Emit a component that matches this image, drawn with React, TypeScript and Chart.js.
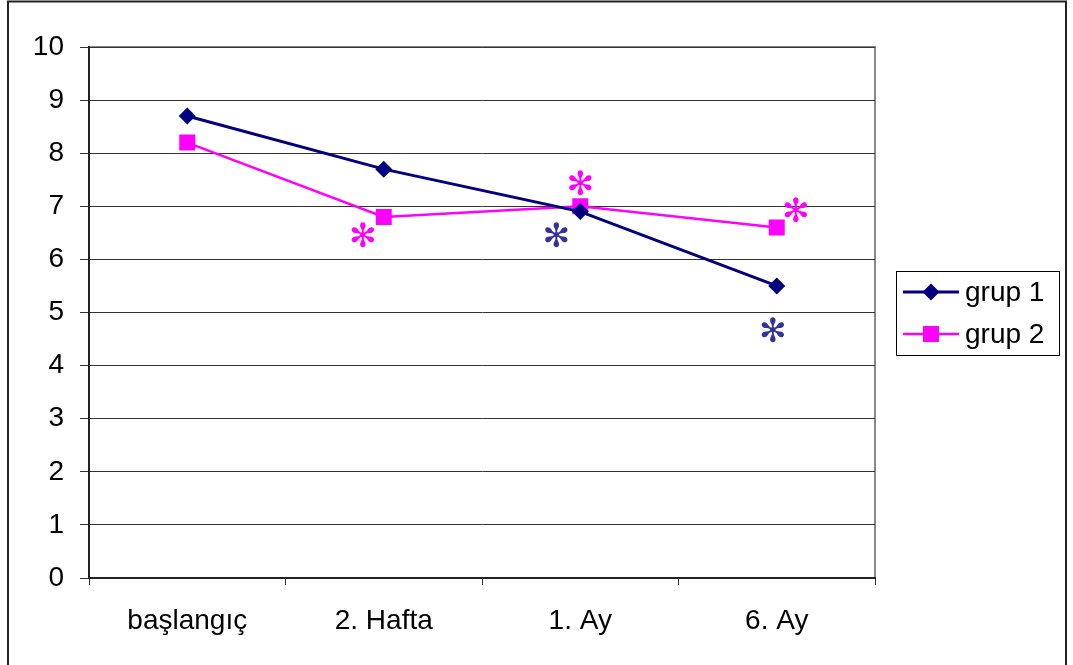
import React, { useEffect, useRef } from "react";
import { Chart, registerables } from "chart.js";

Chart.register(...registerables);

const categories = ["başlangıç", "2. Hafta", "1. Ay", "6. Ay"];
const grup1 = [8.7, 7.7, 6.9, 5.5];
const grup2 = [8.2, 6.8, 7.0, 6.6];
const yTicks = [0, 1, 2, 3, 4, 5, 6, 7, 8, 9, 10];

// significance marks: category position (fractional index), value, series
const starX = [0.893, 1.878, 2.0, 2.98, 3.097];
const starY = [6.39, 6.39, 7.37, 4.6, 6.86];
const starSeries = [2, 1, 2, 1, 2];

const NAVY = "#000080";
const PINK = "#FF00FF";
const STAR_NAVY = "#333399";
const FONT = "Liberation Sans, Arial, sans-serif";

function drawMarker(ctx: CanvasRenderingContext2D, kind: number, x: number, y: number) {
  ctx.save();
  if (kind === 1) {
    const r = 8.5;
    ctx.fillStyle = NAVY;
    ctx.beginPath();
    ctx.moveTo(x, y - r);
    ctx.lineTo(x + r, y);
    ctx.lineTo(x, y + r);
    ctx.lineTo(x - r, y);
    ctx.closePath();
    ctx.fill();
  } else {
    const h = 8;
    ctx.fillStyle = PINK;
    ctx.fillRect(x - h, y - h, 2 * h, 2 * h);
  }
  ctx.restore();
}

const framePlugin = {
  id: "framePlugin",
  beforeDraw(chart: any) {
    const { ctx, chartArea } = chart;
    ctx.save();
    ctx.fillStyle = "#ffffff";
    ctx.fillRect(0, 0, chart.width, chart.height);
    ctx.strokeStyle = "#888888";
    ctx.lineWidth = 2;
    ctx.strokeRect(chartArea.left, chartArea.top, chartArea.right - chartArea.left, chartArea.bottom - chartArea.top);
    ctx.restore();
  },
  afterDraw(chart: any) {
    const { ctx } = chart;
    const xs = chart.scales.x;
    const ys = chart.scales.y;
    ctx.save();
    // outer frame
    ctx.strokeStyle = "#222222";
    ctx.lineWidth = 2;
    ctx.beginPath();
    ctx.moveTo(8, chart.height + 5);
    ctx.lineTo(8, 1.5);
    ctx.lineTo(1066, 1.5);
    ctx.lineTo(1066, chart.height + 5);
    ctx.stroke();

    // stars
    const step = xs.getPixelForValue(1) - xs.getPixelForValue(0);
    ctx.font = `33px "DejaVu Sans"`;
    ctx.textAlign = "center";
    ctx.textBaseline = "middle";
    for (let i = 0; i < starX.length; i++) {
      const base = Math.floor(starX[i]);
      const px = xs.getPixelForValue(base) + (starX[i] - base) * step;
      const py = ys.getPixelForValue(starY[i]);
      ctx.fillStyle = starSeries[i] === 1 ? STAR_NAVY : PINK;
      ctx.fillText("\u273B", px, py);
    }

    // legend
    const lx = 896, ly = 271, lw = 163, lh = 84;
    ctx.strokeStyle = "#000000";
    ctx.lineWidth = 1;
    ctx.strokeRect(lx + 0.5, ly + 0.5, lw, lh);
    const rows = [292, 334];
    chart.data.datasets.forEach((ds: any, i: number) => {
      const y = rows[i];
      ctx.strokeStyle = ds.borderColor;
      ctx.lineWidth = i === 0 ? 3 : 2.5;
      ctx.beginPath();
      ctx.moveTo(903, y);
      ctx.lineTo(959, y);
      ctx.stroke();
      drawMarker(ctx, i + 1, 931, y);
      ctx.fillStyle = "#000000";
      ctx.font = `28px ${FONT}`;
      ctx.textAlign = "left";
      ctx.textBaseline = "middle";
      ctx.fillText(ds.label, 965, y + 1);
    });
    ctx.restore();
  },
};

export default function App() {
  const ref = useRef<HTMLCanvasElement | null>(null);
  useEffect(() => {
    if (!ref.current) return;
    const chart = new Chart(ref.current, {
      type: "line",
      data: {
        labels: categories,
        datasets: [
          {
            label: "grup 1",
            data: grup1,
            borderColor: NAVY,
            backgroundColor: NAVY,
            borderWidth: 3,
            pointStyle: "rectRot",
            pointRadius: 8.5,
            pointBorderWidth: 0,
            tension: 0,
          },
          {
            label: "grup 2",
            data: grup2,
            borderColor: PINK,
            backgroundColor: PINK,
            borderWidth: 2.5,
            pointStyle: "rect",
            pointRadius: 11.3,
            pointBorderWidth: 0,
            tension: 0,
          },
        ],
      },
      options: {
        responsive: false,
        animation: false,
        layout: { padding: { left: 0, top: 47, right: 198, bottom: 0 } },
        plugins: {
          legend: { display: false },
          tooltip: { enabled: false },
        },
        scales: {
          x: {
            offset: true,
            grid: {
              offset: true,
              drawOnChartArea: false,
              drawTicks: true,
              tickLength: 7,
              color: "#333333",
            },
            border: { color: "#222222", width: 2 },
            ticks: {
              color: "#000000",
              font: { family: FONT, size: 28 },
              padding: 19,
              maxRotation: 0,
            },
            afterFit(scale: any) {
              scale.height = 87;
            },
          },
          y: {
            min: 0,
            max: 10,
            afterBuildTicks(scale: any) {
              scale.ticks = yTicks.map((v) => ({ value: v }));
            },
            grid: {
              color: "#333333",
              lineWidth: 1,
              drawTicks: true,
              tickLength: 9,
            },
            border: { color: "#222222", width: 2 },
            ticks: {
              color: "#000000",
              font: { family: FONT, size: 28 },
              padding: 16,
            },
            afterFit(scale: any) {
              scale.width = 89;
            },
          },
        },
      },
      plugins: [framePlugin],
    });
    return () => chart.destroy();
  }, []);
  return (
    <div style={{ position: "absolute", left: 0, top: 0, width: 1073, height: 665 }}>
      <canvas ref={ref} width={1073} height={665} style={{ display: "block" }} />
    </div>
  );
}
